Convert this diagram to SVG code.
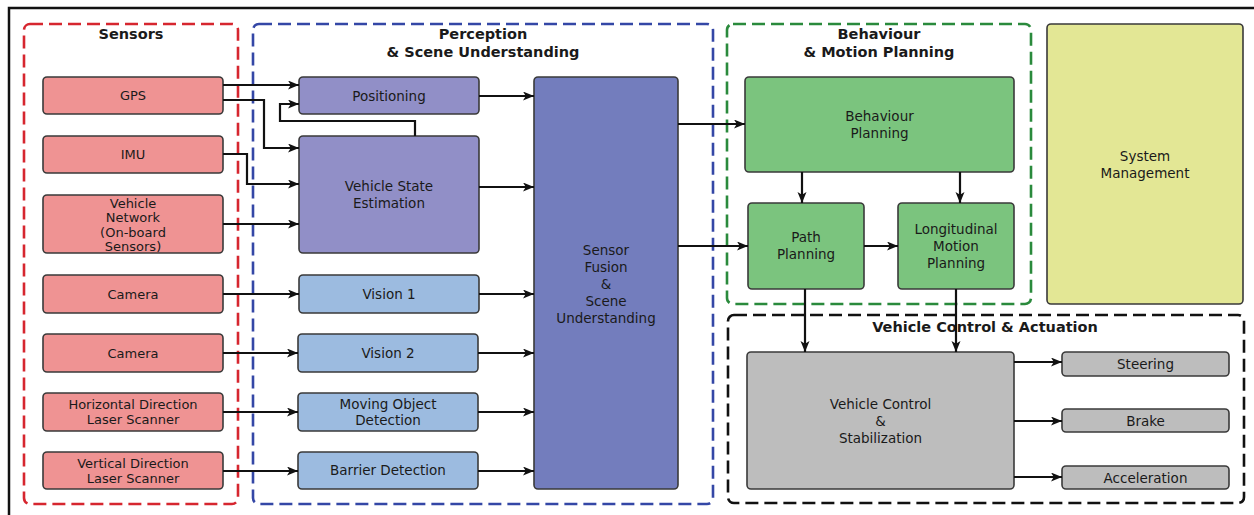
<svg xmlns="http://www.w3.org/2000/svg" width="1254" height="515" viewBox="0 0 1254 515">
  <style>
    text { font-family: "DejaVu Sans", Verdana, sans-serif; fill: #1a1a1a; text-anchor: middle; }
    .lbl { font-size: 13.5px; }
    .sl { font-size: 13px; }
    .ttl { font-size: 14.5px; font-weight: bold; }
    .node { stroke: #3a3a3a; stroke-width: 1.6; }
    .sensor { fill: #ef9393; }
    .pos { fill: #918fc7; }
    .vis { fill: #9cbbe0; }
    .fusion { fill: #737dbd; }
    .plan { fill: #7bc47e; }
    .sys { fill: #e3e795; }
    .ctrl { fill: #bdbdbd; }
    .grp { fill: none; stroke-width: 2.6; stroke-dasharray: 13 6; }
    .wire { fill: none; stroke: #111; stroke-width: 2.2; marker-end: url(#arrow); }
  </style>
  <defs>
    <marker id="arrow" markerUnits="userSpaceOnUse" markerWidth="13" markerHeight="11" refX="11" refY="4.5" orient="auto">
      <path d="M0,0 L11,4.5 L0,9 L2.8,4.5 z" fill="#111"/>
    </marker>
  </defs>

  <rect width="1254" height="515" fill="#ffffff"/>
  <!-- outer frame (top and left edges) -->
  <path d="M9,515 V8 H1254" fill="none" stroke="#111" stroke-width="2.5"/>

  <!-- stage groups -->
  <g id="group-sensors">
    <rect class="grp" x="24" y="24" width="214" height="480" rx="6" stroke="#d6262f"/>
    <text class="ttl" x="131" y="39">Sensors</text>
  </g>
  <g id="group-perception">
    <rect class="grp" x="253" y="24" width="460" height="480" rx="6" stroke="#3447a6"/>
    <text class="ttl" x="483" y="39">Perception</text>
    <text class="ttl" x="483" y="57">&amp; Scene Understanding</text>
  </g>
  <g id="group-planning">
    <rect class="grp" x="727" y="24" width="304" height="280" rx="6" stroke="#2a8a3c"/>
    <text class="ttl" x="879" y="39">Behaviour</text>
    <text class="ttl" x="879" y="57">&amp; Motion Planning</text>
  </g>
  <g id="group-control">
    <rect class="grp" x="728" y="315" width="516" height="188" rx="6" stroke="#111"/>
    <text class="ttl" x="985" y="332">Vehicle Control &amp; Actuation</text>
  </g>

  <!-- sensors -->
  <g id="gps">
    <rect class="node sensor" x="43" y="77" width="180" height="37" rx="4"/>
    <text class="sl" x="133" y="100">GPS</text>
  </g>
  <g id="imu">
    <rect class="node sensor" x="43" y="136" width="180" height="37" rx="4"/>
    <text class="sl" x="133" y="159">IMU</text>
  </g>
  <g id="vehicle-network">
    <rect class="node sensor" x="43" y="195" width="180" height="58" rx="4"/>
    <text class="sl" x="133" y="207.5">Vehicle</text>
    <text class="sl" x="133" y="222">Network</text>
    <text class="sl" x="133" y="236.5">(On-board</text>
    <text class="sl" x="133" y="251">Sensors)</text>
  </g>
  <g id="camera-1">
    <rect class="node sensor" x="43" y="275" width="180" height="38" rx="4"/>
    <text class="sl" x="133" y="298.5">Camera</text>
  </g>
  <g id="camera-2">
    <rect class="node sensor" x="43" y="334" width="180" height="38" rx="4"/>
    <text class="sl" x="133" y="357.5">Camera</text>
  </g>
  <g id="horizontal-scanner">
    <rect class="node sensor" x="43" y="393" width="180" height="38" rx="4"/>
    <text class="sl" x="133" y="409">Horizontal Direction</text>
    <text class="sl" x="133" y="424">Laser Scanner</text>
  </g>
  <g id="vertical-scanner">
    <rect class="node sensor" x="43" y="452" width="180" height="37" rx="4"/>
    <text class="sl" x="133" y="468">Vertical Direction</text>
    <text class="sl" x="133" y="483">Laser Scanner</text>
  </g>

  <!-- perception -->
  <g id="positioning">
    <rect class="node pos" x="299" y="77" width="180" height="37" rx="4"/>
    <text class="lbl" x="389" y="100.5">Positioning</text>
  </g>
  <g id="vehicle-state-estimation">
    <rect class="node pos" x="299" y="136" width="180" height="117" rx="4"/>
    <text class="lbl" x="389" y="191">Vehicle State</text>
    <text class="lbl" x="389" y="208">Estimation</text>
  </g>
  <g id="vision-1">
    <rect class="node vis" x="299" y="275" width="180" height="38" rx="4"/>
    <text class="lbl" x="389" y="298.5">Vision 1</text>
  </g>
  <g id="vision-2">
    <rect class="node vis" x="298" y="334" width="180" height="38" rx="4"/>
    <text class="lbl" x="388" y="357.5">Vision 2</text>
  </g>
  <g id="moving-object-detection">
    <rect class="node vis" x="298" y="393" width="180" height="38" rx="4"/>
    <text class="lbl" x="388" y="408.5">Moving Object</text>
    <text class="lbl" x="388" y="425">Detection</text>
  </g>
  <g id="barrier-detection">
    <rect class="node vis" x="298" y="452" width="180" height="37" rx="4"/>
    <text class="lbl" x="388" y="475">Barrier Detection</text>
  </g>
  <g id="sensor-fusion">
    <rect class="node fusion" x="534" y="77" width="144" height="412" rx="4"/>
    <text class="lbl" x="606" y="255">Sensor</text>
    <text class="lbl" x="606" y="272">Fusion</text>
    <text class="lbl" x="606" y="289">&amp;</text>
    <text class="lbl" x="606" y="306">Scene</text>
    <text class="lbl" x="606" y="323">Understanding</text>
  </g>

  <!-- planning -->
  <g id="behaviour-planning">
    <rect class="node plan" x="745" y="77" width="269" height="95" rx="4"/>
    <text class="lbl" x="879.5" y="121">Behaviour</text>
    <text class="lbl" x="879.5" y="138">Planning</text>
  </g>
  <g id="path-planning">
    <rect class="node plan" x="748" y="203" width="116" height="86" rx="4"/>
    <text class="lbl" x="806" y="242">Path</text>
    <text class="lbl" x="806" y="259">Planning</text>
  </g>
  <g id="longitudinal-motion-planning">
    <rect class="node plan" x="898" y="203" width="116" height="86" rx="4"/>
    <text class="lbl" x="956" y="234">Longitudinal</text>
    <text class="lbl" x="956" y="251">Motion</text>
    <text class="lbl" x="956" y="268">Planning</text>
  </g>
  <g id="system-management">
    <rect class="node sys" x="1047" y="24" width="196" height="280" rx="4"/>
    <text class="lbl" x="1145" y="161">System</text>
    <text class="lbl" x="1145" y="178">Management</text>
  </g>

  <!-- control & actuation -->
  <g id="vehicle-control">
    <rect class="node ctrl" x="747" y="352" width="267" height="137" rx="4"/>
    <text class="lbl" x="880.5" y="409">Vehicle Control</text>
    <text class="lbl" x="880.5" y="426">&amp;</text>
    <text class="lbl" x="880.5" y="443">Stabilization</text>
  </g>
  <g id="steering">
    <rect class="node ctrl" x="1062" y="352" width="167" height="24" rx="4"/>
    <text class="lbl" x="1145.5" y="369">Steering</text>
  </g>
  <g id="brake">
    <rect class="node ctrl" x="1062" y="409" width="167" height="23" rx="4"/>
    <text class="lbl" x="1145.5" y="425.5">Brake</text>
  </g>
  <g id="acceleration">
    <rect class="node ctrl" x="1062" y="466" width="167" height="23" rx="4"/>
    <text class="lbl" x="1145.5" y="482.5">Acceleration</text>
  </g>

  <!-- connectors -->
  <g id="connectors">
    <path class="wire" d="M223,85 H299"/>
    <path class="wire" d="M223,100 H264 V148 H299"/>
    <path class="wire" d="M223,154 H247 V184 H299"/>
    <path class="wire" d="M223,224 H299"/>
    <path class="wire" d="M415,136 V121 H280 V104 H299"/>
    <path class="wire" d="M223,294 H299"/>
    <path class="wire" d="M223,353 H298"/>
    <path class="wire" d="M223,412 H298"/>
    <path class="wire" d="M223,471 H298"/>
    <path class="wire" d="M479,96 H534"/>
    <path class="wire" d="M479,187 H534"/>
    <path class="wire" d="M479,294 H534"/>
    <path class="wire" d="M478,353 H534"/>
    <path class="wire" d="M478,412 H534"/>
    <path class="wire" d="M478,471 H534"/>
    <path class="wire" d="M678,124 H745"/>
    <path class="wire" d="M678,246 H748"/>
    <path class="wire" d="M802,172 V203"/>
    <path class="wire" d="M960,172 V203"/>
    <path class="wire" d="M864,246 H898"/>
    <path class="wire" d="M805,289 V352"/>
    <path class="wire" d="M956,289 V352"/>
    <path class="wire" d="M1014,362 H1062"/>
    <path class="wire" d="M1014,421 H1062"/>
    <path class="wire" d="M1014,477 H1062"/>
  </g>
</svg>
